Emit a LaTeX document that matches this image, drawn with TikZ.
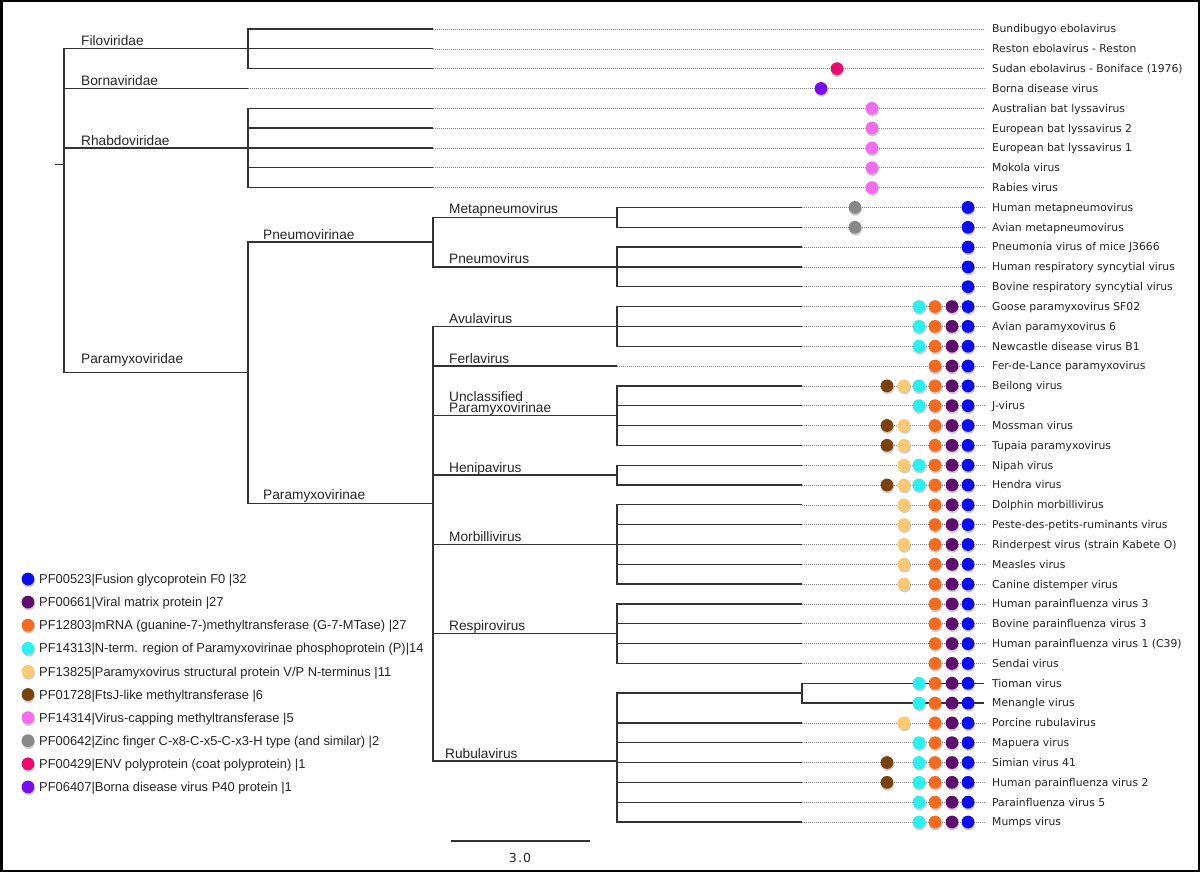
\documentclass[tikz,border=0pt]{standalone}
\usepackage{fontspec}
\setmainfont{Liberation Sans}
\newfontfamily\leaffont{DejaVu Sans}
\newfontfamily\scalefont[LetterSpace=10]{DejaVu Sans}

\definecolor{pfB}{RGB}{10,12,242}   % fusion glycoprotein
\definecolor{pfU}{RGB}{94,12,110}   % matrix protein
\definecolor{pfO}{RGB}{244,106,30}  % G-7-MTase
\definecolor{pfC}{RGB}{42,240,240}  % phosphoprotein
\definecolor{pfS}{RGB}{252,200,114} % V/P N-terminus
\definecolor{pfW}{RGB}{123,66,12}   % FtsJ-like
\definecolor{pfK}{RGB}{243,108,239} % virus-capping
\definecolor{pfG}{RGB}{136,136,136} % zinc finger
\definecolor{pfR}{RGB}{235,10,110}  % ENV polyprotein
\definecolor{pfV}{RGB}{122,10,240}  % Borna P40

\tikzset{
  branch/.style={draw=black!80, line width=1.3pt},
  guide/.style={draw=black!45, line width=0.6pt, dash pattern=on 0.7pt off 1.3pt, shorten >=7pt},
  leaf/.style={anchor=base west, inner sep=0pt, text=black!85, font=\leaffont\fontsize{10.8}{12}\selectfont},
  clade/.style={anchor=base west, inner sep=0pt, text=black!85, font=\fontsize{13.7}{15}\selectfont},
  legend/.style={anchor=base west, inner sep=0pt, text=black!85, font=\fontsize{12.9}{14}\selectfont},
  dotshade/.style={fill=black, opacity=.2},
}

\begin{document}
\begin{tikzpicture}[x=1pt, y=-1pt]
  \useasboundingbox (0,0) rectangle (1200,872);
  \fill[white] (0,0) rectangle (1200,872);

  % leaves
  \foreach \i/\x/\lab in {
    0/433/Bundibugyo ebolavirus,
    1/433/Reston ebolavirus - Reston,
    2/433/Sudan ebolavirus - Boniface (1976),
    3/248/Borna disease virus,
    4/433/Australian bat lyssavirus,
    5/433/European bat lyssavirus 2,
    6/433/European bat lyssavirus 1,
    7/433/Mokola virus,
    8/433/Rabies virus,
    9/802/Human metapneumovirus,
    10/802/Avian metapneumovirus,
    11/802/Pneumonia virus of mice J3666,
    12/802/Human respiratory syncytial virus,
    13/802/Bovine respiratory syncytial virus,
    14/802/Goose paramyxovirus SF02,
    15/802/Avian paramyxovirus 6,
    16/802/Newcastle disease virus B1,
    17/617/Fer-de-Lance paramyxovirus,
    18/802/Beilong virus,
    19/802/J-virus,
    20/802/Mossman virus,
    21/802/Tupaia paramyxovirus,
    22/802/Nipah virus,
    23/802/Hendra virus,
    24/802/Dolphin morbillivirus,
    25/802/Peste-des-petits-ruminants virus,
    26/802/Rinderpest virus (strain Kabete O),
    27/802/Measles virus,
    28/802/Canine distemper virus,
    29/802/Human parainfluenza virus 3,
    30/802/Bovine parainfluenza virus 3,
    31/802/Human parainfluenza virus 1 (C39),
    32/802/Sendai virus,
    33/984/Tioman virus,
    34/984/Menangle virus,
    35/802/Porcine rubulavirus,
    36/802/Mapuera virus,
    37/802/Simian virus 41,
    38/802/Human parainfluenza virus 2,
    39/802/Parainfluenza virus 5,
    40/802/Mumps virus}{
    \node[leaf] (v\i) at (992, {29+19.825*\i+3.9}) {\lab};
    \coordinate (t\i) at (\x, {29+19.825*\i});
  }

  % inner nodes
  \coordinate (stub) at (55,164.5);
  \coordinate (root) at (64,164.5);
  \coordinate (filo) at (248,48.8);
  \coordinate (rhabdo) at (248,148);
  \coordinate (pmxd) at (248,372.7);
  \coordinate (pneuA) at (433,242.1);
  \coordinate (pmxA) at (433,503.2);
  \coordinate (metap) at (617,217.3);
  \coordinate (pneu) at (617,266.9);
  \coordinate (avula) at (617,326.4);
  \coordinate (uncl) at (617,415.6);
  \coordinate (heni) at (617,475.1);
  \coordinate (morbi) at (617,544.5);
  \coordinate (respi) at (617,633.7);
  \coordinate (rubula) at (617,761.1);
  \coordinate (tiomen) at (802,693.1);

  \draw[branch] (stub) -- (root);
  \foreach \p/\kids in {root/{filo,rhabdo,pmxd,t3}, pmxd/{pneuA,pmxA},
      pneuA/{metap,pneu}, pmxA/{avula,t17,uncl,heni,morbi,respi,rubula},
      rubula/{tiomen}}
    \foreach \k in \kids
      \draw[branch] (\p) |- (\k);
  \foreach \p/\kids in {filo/{0,1,2}, rhabdo/{4,...,8}, metap/{9,10},
      pneu/{11,12,13}, avula/{14,15,16}, uncl/{18,...,21}, heni/{22,23},
      morbi/{24,...,28}, respi/{29,...,32}, tiomen/{33,34}, rubula/{35,...,40}}
    \foreach \i in \kids
      \draw[branch] (\p) |- (t\i);

  \foreach \i in {0,...,32,35,36,...,40}
    \draw[guide] (t\i) -- (t\i -| v\i.west);

  % clade names
  \node[clade] (nFilo) at (81,46) {Filoviridae};
  \node[clade] (nBorna) at (81,85.5) {Bornaviridae};
  \node[clade] (nRhabdo) at (81,145.5) {Rhabdoviridae};
  \node[clade] (nPmxd) at (81,363.5) {Paramyxoviridae};
  \node[clade] (nPneuA) at (263,239) {Pneumovirinae};
  \node[clade] (nPmxA) at (263,499.5) {Paramyxovirinae};
  \node[clade] (nMetap) at (449,214) {Metapneumovirus};
  \node[clade] (nPneu) at (449,263.5) {Pneumovirus};
  \node[clade] (nAvula) at (449,323) {Avulavirus};
  \node[clade] (nFerla) at (449,363) {Ferlavirus};
  \node[clade] (nUnclA) at (449,401) {Unclassified};
  \node[clade] (nUnclB) at (449,412.5) {Paramyxovirinae};
  \node[clade] (nHeni) at (449,472) {Henipavirus};
  \node[clade] (nMorbi) at (449,541) {Morbillivirus};
  \node[clade] (nRespi) at (449,630.5) {Respirovirus};
  \node[clade] (nRubula) at (445,758) {Rubulavirus};

  % domain dots
  \foreach \c/\x in {B/968, U/952, O/935, C/919, S/904, W/887, G/855, K/872, R/837, V/821}
    \coordinate (col\c) at (\x,0);
  \foreach \i/\cols in {2/R, 3/V, 4/K, 5/K, 6/K, 7/K, 8/K, 9/{G,B}, 10/{G,B},
      11/B, 12/B, 13/B, 14/{C,O,U,B}, 15/{C,O,U,B}, 16/{C,O,U,B}, 17/{O,U,B},
      18/{W,S,C,O,U,B}, 19/{C,O,U,B}, 20/{W,S,O,U,B}, 21/{W,S,O,U,B},
      22/{S,C,O,U,B}, 23/{W,S,C,O,U,B}, 24/{S,O,U,B}, 25/{S,O,U,B},
      26/{S,O,U,B}, 27/{S,O,U,B}, 28/{S,O,U,B}, 29/{O,U,B}, 30/{O,U,B},
      31/{O,U,B}, 32/{O,U,B}, 33/{C,O,U,B}, 34/{C,O,U,B}, 35/{S,O,U,B},
      36/{C,O,U,B}, 37/{W,C,O,U,B}, 38/{W,C,O,U,B}, 39/{C,O,U,B}, 40/{C,O,U,B}}
    \foreach \c in \cols {
      \fill[dotshade] (col\c |- t\i) ++(0.6,2) circle (6.3);
      \fill[pf\c] (col\c |- t\i) circle (6.4);
    }

  % legend
  \foreach \c/\txt [count=\k from 0] in {
    B/{PF00523|Fusion glycoprotein F0 |32},
    U/{PF00661|Viral matrix protein |27},
    O/{PF12803|mRNA (guanine-7-)methyltransferase (G-7-MTase) |27},
    C/{PF14313|N-term. region of Paramyxovirinae phosphoprotein (P)|14},
    S/{PF13825|Paramyxovirus structural protein V/P N-terminus |11},
    W/{PF01728|FtsJ-like methyltransferase |6},
    K/{PF14314|Virus-capping methyltransferase |5},
    G/{PF00642|Zinc finger C-x8-C-x5-C-x3-H type (and similar) |2},
    R/{PF00429|ENV polyprotein (coat polyprotein) |1},
    V/{PF06407|Borna disease virus P40 protein |1}}{
    \fill[dotshade] (28.6, {579+23.1*\k+2}) circle (6.3);
    \fill[pf\c] (28, {579+23.1*\k}) circle (6.4);
    \node[legend] (leg\c) at (39, {579+23.1*\k+4.6}) {\txt};
  }

  % scale bar
  \coordinate (sbA) at (451,841);
  \coordinate (sbB) at (590,841);
  \draw[branch] (sbA) -- (sbB);
  \node[anchor=base, inner sep=0pt, text=black!85, font=\scalefont\fontsize{12.5}{14}\selectfont] (sbLabel) at (520,862) {3.0};

  \draw[line width=2.5pt] (1.25,1.25) rectangle (1198.75,870.75);
\end{tikzpicture}
\end{document}
